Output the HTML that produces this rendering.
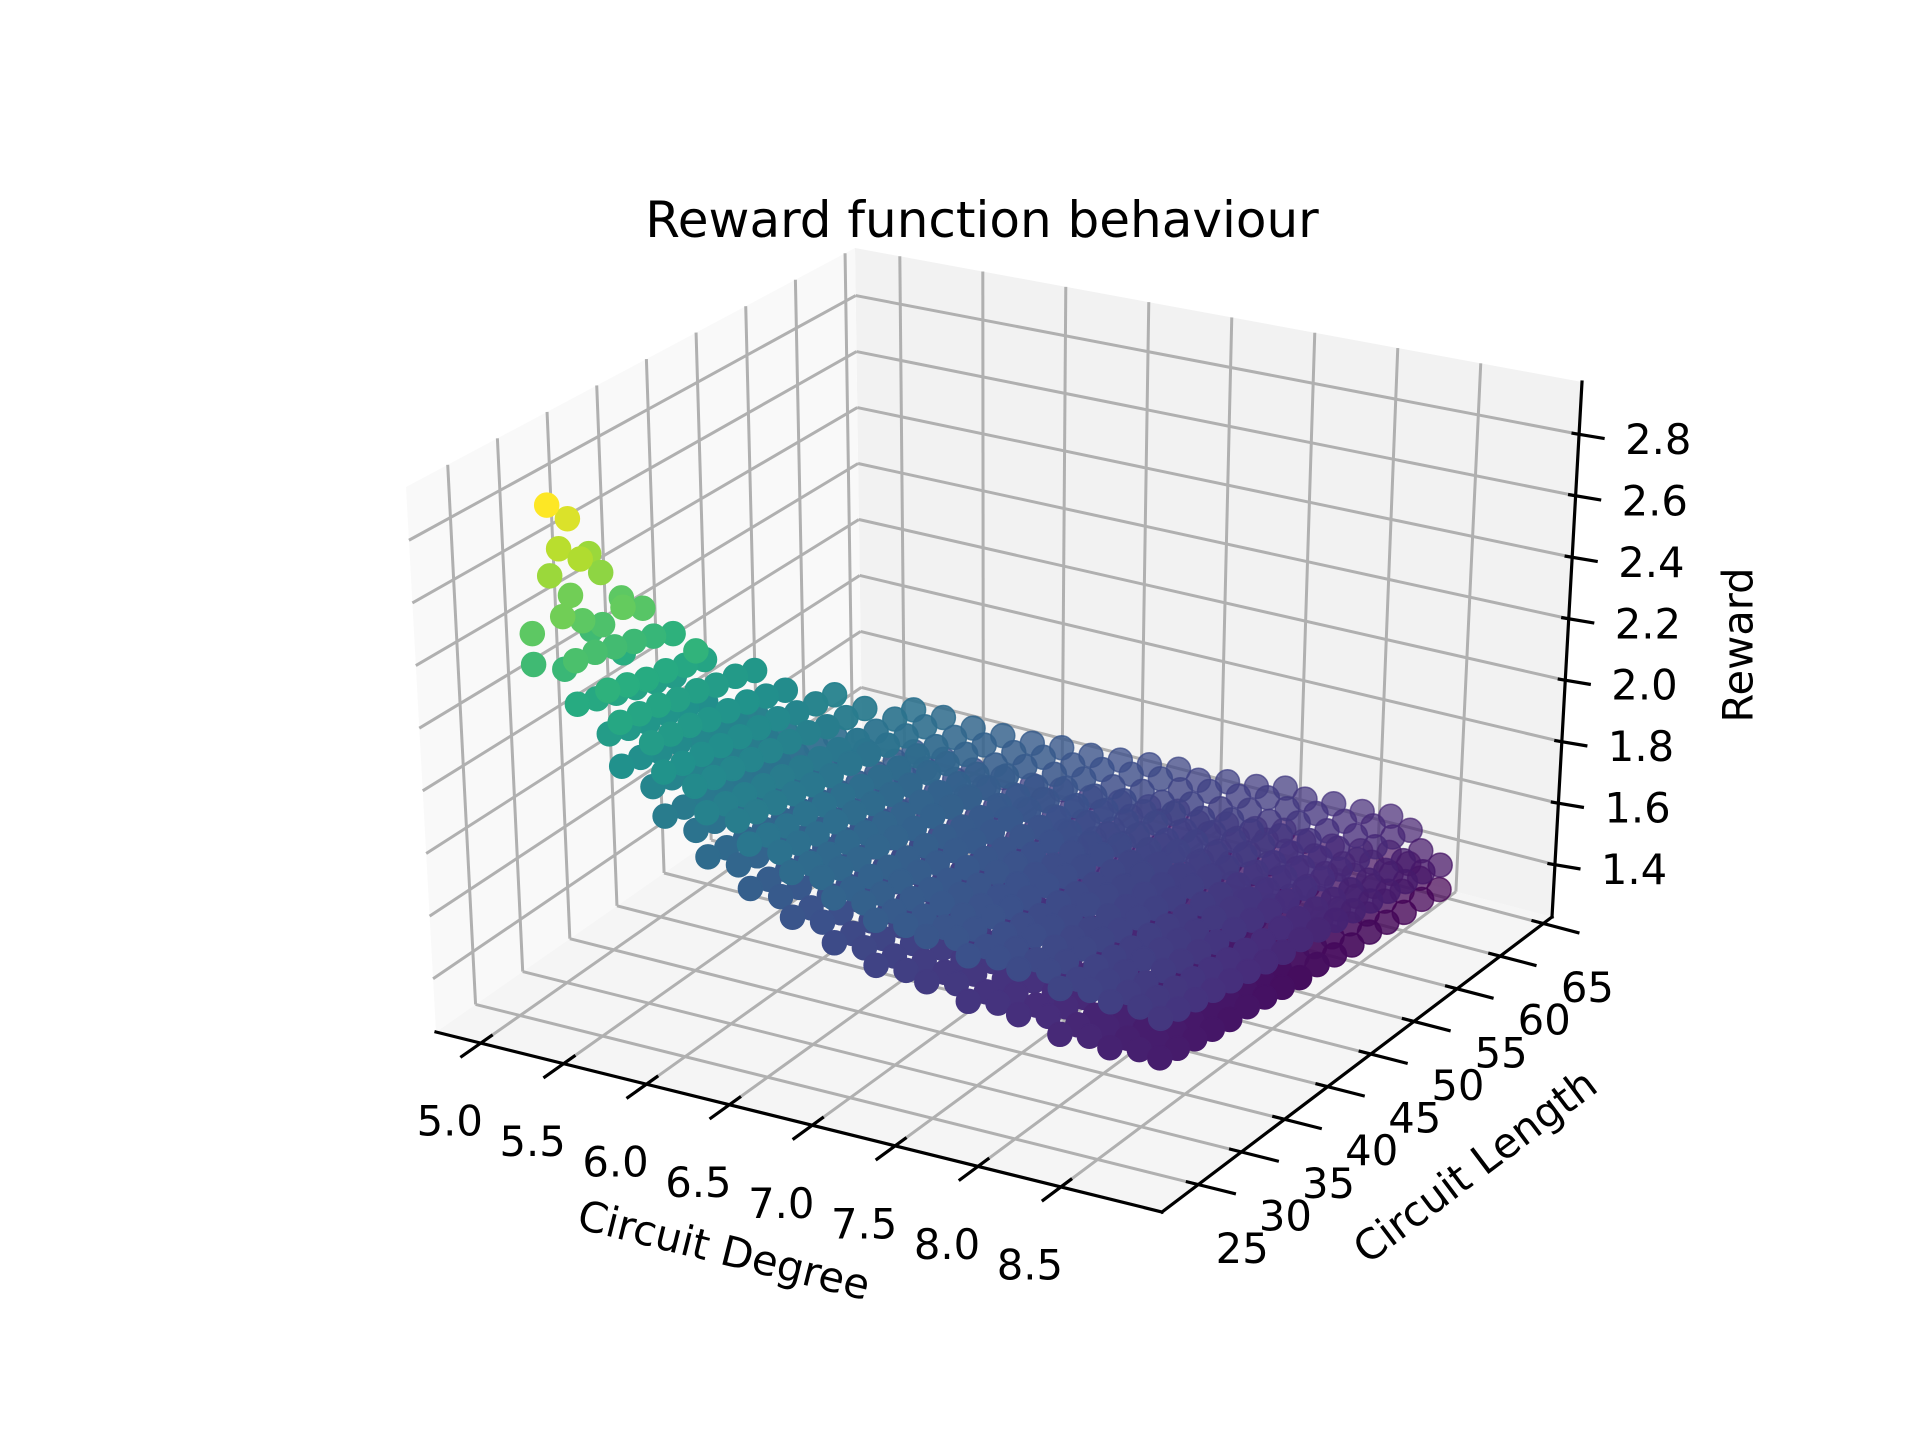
<!DOCTYPE html>
<html><head><meta charset="utf-8"><style>
html,body{margin:0;padding:0;background:#fff;}
svg{display:block;font-family:"DejaVu Sans","Liberation Sans",sans-serif;}
</style></head><body>
<svg id="chart" width="1920" height="1440" viewBox="0 0 1920 1440" xmlns="http://www.w3.org/2000/svg">
<rect x="0" y="0" width="1920" height="1440" fill="#ffffff"/>
<g id="panes"></g>
<g id="grid"></g>
<g id="axes"></g>
<g id="points"></g>
<g id="labels"></g>
<text x="982" y="237" font-size="50" text-anchor="middle">Reward function behaviour</text>
<text x="724" y="1250" font-size="41.7" text-anchor="middle" dominant-baseline="central" transform="rotate(14 724 1250)">Circuit Degree</text>
<text x="1475" y="1166" font-size="41.7" text-anchor="middle" dominant-baseline="central" transform="rotate(-37 1475 1166)">Circuit Length</text>
<text x="1738" y="645" font-size="41.7" text-anchor="middle" dominant-baseline="central" transform="rotate(-90 1738 645)">Reward</text>
</svg>
<script>
const xTicks = [5.0,5.5,6.0,6.5,7.0,7.5,8.0,8.5];
const yTicks = [25,30,35,40,45,50,55,60,65];
const zTicks = [1.4,1.6,1.8,2.0,2.2,2.4,2.6,2.8];
const xTickLabels = ["5.0","5.5","6.0","6.5","7.0","7.5","8.0","8.5"];
const yTickLabels = ["25","30","35","40","45","50","55","60","65"];
const zTickLabels = ["1.4","1.6","1.8","2.0","2.2","2.4","2.6","2.8"];
const xRange = [4.73, 9.11];
const yRange = [20.8, 66.0];
const zRange = [1.23, 2.97];

const degreeLevels = [5.0,5.25,5.5,5.75,6.0,6.25,6.5,6.75,7.0,7.25,7.5,7.75,8.0,8.25,8.5,
  5.125,5.375,5.625,5.875,6.125,6.375,6.625,6.875,7.125,7.375,7.625,7.875,8.125,8.375];
const lengthsByLevel = [
[28,28,30,30,31,32,32,34,34],
[28,28,30,30,32,32,33,34,34,35,36,36,38,38],
[28,28,30,30,32,32,34,34,36,36,36,38,38,40,40,42,42],
[28,28,30,30,32,32,34,34,36,36,38,38,40,40,42,42,44,44,46,46],
[28,28,30,30,32,32,34,34,36,36,38,38,40,40,42,42,44,44,46,46,48,48,50,50],
[28,28,30,30,32,32,34,34,36,36,38,38,40,40,42,42,44,44,46,46,48,48,50,50,52,52],
[28,28,30,30,32,32,34,34,36,36,38,38,40,40,42,42,44,44,46,46,48,48,50,50,52,52,54,54],
[28,28,30,30,32,32,34,34,36,36,38,38,40,40,42,42,44,44,46,46,48,48,50,50,52,52,54,54,56,56],
[28,28,30,30,32,32,34,34,36,36,38,38,40,40,42,42,44,44,46,46,48,48,50,50,52,52,54,54,56,56,58,58],
[29,29,31,31,33,33,35,35,37,37,39,39,41,41,43,43,45,45,47,47,49,49,51,51,53,53,55,55,57,57,59,59],
[29,29,31,31,33,33,35,35,37,37,39,39,41,41,43,43,45,45,47,47,49,49,51,51,53,53,55,55,57,57,59,59,61,61],
[30,30,32,32,34,34,36,36,38,38,40,40,42,42,44,44,46,46,48,48,50,50,52,52,54,54,56,56,58,58,60,60,62,62],
[30,30,32,32,34,34,36,36,38,38,40,40,42,42,44,44,46,46,48,48,50,50,52,52,54,54,56,56,58,58,60,60,62,62,64,64],
[31,31,33,33,35,35,37,37,39,39,41,41,43,43,45,45,47,47,49,49,51,51,53,53,55,55,57,57,59,59,61,61,63,63,65,65],
[32,32,34,34,36,36,38,38,40,40,42,42,44,44,46,46,48,48,50,50,52,52,54,54,56,56,58,58,60,60,62,62,64,64],
[29,29,31,31,33,33,35,35],
[29,29,31,31,33,33,35,35,37,37,39,39],
[29,29,31,31,33,33,35,35,37,37,39,39,41,41,43,43],
[29,29,31,31,33,33,35,35,37,37,39,39,41,41,43,43,45,45,47,47],
[29,29,31,31,33,33,35,35,37,37,39,39,41,41,43,43,45,45,47,47,49,49,51,51],
[29,29,31,31,33,33,35,35,37,37,39,39,41,41,43,43,45,45,47,47,49,49,51,51,53,53],
[29,29,31,31,33,33,35,35,37,37,39,39,41,41,43,43,45,45,47,47,49,49,51,51,53,53,55,55],
[29,29,31,31,33,33,35,35,37,37,39,39,41,41,43,43,45,45,47,47,49,49,51,51,53,53,55,55,57,57],
[29,29,31,31,33,33,35,35,37,37,39,39,41,41,43,43,45,45,47,47,49,49,51,51,53,53,55,55,57,57,59,59],
[30,30,32,32,34,34,36,36,38,38,40,40,42,42,44,44,46,46,48,48,50,50,52,52,54,54,56,56,58,58,60,60],
[30,30,32,32,34,34,36,36,38,38,40,40,42,42,44,44,46,46,48,48,50,50,52,52,54,54,56,56,58,58,60,60,62,62],
[31,31,33,33,35,35,37,37,39,39,41,41,43,43,45,45,47,47,49,49,51,51,53,53,55,55,57,57,59,59,61,61,63,63],
[31,31,33,33,35,35,37,37,39,39,41,41,43,43,45,45,47,47,49,49,51,51,53,53,55,55,57,57,59,59,61,61,63,63,65,65],
[32,32,34,34,36,36,38,38,40,40,42,42,44,44,46,46,48,48,50,50,52,52,54,54,56,56,58,58,60,60,62,62,64,64]
];
const rewardsByLevel = [
[2.40,2.30,2.78,2.55,2.62,2.70,2.45,2.55,2.30],
[2.34,2.20,2.33,2.18,2.31,2.16,2.42,2.29,2.14,2.38,2.27,2.12,2.24,2.10],
[2.17,2.03,2.16,2.02,2.15,2.00,2.13,1.99,2.12,1.97,2.25,2.10,1.96,2.09,1.94,2.07,1.93],
[2.04,1.90,2.03,1.89,2.02,1.88,2.01,1.87,2.00,1.86,1.99,1.85,1.98,1.84,1.96,1.82,1.95,1.81,1.94,1.80],
[1.94,1.80,1.93,1.79,1.92,1.78,1.91,1.77,1.90,1.76,1.89,1.75,1.88,1.74,1.87,1.73,1.86,1.72,1.85,1.71,1.85,1.71,1.84,1.70],
[1.87,1.73,1.86,1.72,1.85,1.71,1.85,1.70,1.84,1.70,1.83,1.69,1.82,1.68,1.81,1.67,1.80,1.66,1.80,1.65,1.79,1.64,1.78,1.64,1.77,1.63],
[1.81,1.67,1.80,1.66,1.79,1.66,1.79,1.65,1.78,1.64,1.77,1.63,1.76,1.62,1.76,1.62,1.75,1.61,1.74,1.60,1.73,1.59,1.72,1.58,1.72,1.58,1.71,1.57],
[1.76,1.62,1.75,1.61,1.75,1.61,1.74,1.60,1.73,1.59,1.73,1.59,1.72,1.58,1.71,1.57,1.70,1.56,1.70,1.56,1.69,1.55,1.68,1.54,1.68,1.54,1.67,1.53,1.66,1.52],
[1.72,1.58,1.71,1.57,1.71,1.57,1.70,1.56,1.69,1.55,1.69,1.55,1.68,1.54,1.67,1.53,1.67,1.53,1.66,1.52,1.65,1.51,1.65,1.51,1.64,1.50,1.63,1.49,1.63,1.49,1.62,1.48],
[1.68,1.54,1.67,1.53,1.67,1.53,1.66,1.52,1.65,1.51,1.65,1.51,1.64,1.50,1.63,1.49,1.63,1.49,1.62,1.48,1.61,1.47,1.61,1.47,1.60,1.46,1.59,1.45,1.59,1.45,1.58,1.44],
[1.65,1.51,1.64,1.50,1.64,1.50,1.63,1.49,1.62,1.48,1.62,1.48,1.61,1.47,1.60,1.46,1.60,1.46,1.59,1.45,1.59,1.45,1.58,1.44,1.57,1.43,1.57,1.43,1.56,1.42,1.56,1.42,1.55,1.41],
[1.62,1.48,1.61,1.47,1.61,1.47,1.60,1.46,1.59,1.45,1.59,1.45,1.58,1.44,1.58,1.44,1.57,1.43,1.56,1.42,1.56,1.42,1.55,1.41,1.55,1.41,1.54,1.40,1.53,1.39,1.53,1.39,1.52,1.38],
[1.59,1.45,1.58,1.44,1.58,1.43,1.57,1.43,1.56,1.42,1.56,1.41,1.55,1.41,1.54,1.40,1.54,1.39,1.53,1.39,1.52,1.38,1.52,1.37,1.51,1.37,1.50,1.36,1.50,1.35,1.49,1.35,1.48,1.34,1.47,1.34],
[1.56,1.42,1.55,1.41,1.54,1.40,1.54,1.40,1.53,1.39,1.52,1.38,1.51,1.38,1.51,1.37,1.50,1.36,1.49,1.36,1.48,1.35,1.48,1.34,1.47,1.34,1.46,1.33,1.45,1.33,1.45,1.32,1.44,1.32,1.42,1.31],
[1.52,1.40,1.51,1.39,1.50,1.38,1.49,1.37,1.48,1.36,1.47,1.36,1.46,1.35,1.45,1.34,1.45,1.33,1.44,1.33,1.43,1.32,1.42,1.31,1.41,1.31,1.40,1.30,1.39,1.29,1.38,1.29,1.36,1.28],
[2.45,2.28,2.60,2.40,2.52,2.35,2.40,2.22],
[2.24,2.10,2.22,2.08,2.20,2.06,2.19,2.05,2.17,2.03,2.15,2.01],
[2.10,1.96,2.09,1.95,2.08,1.94,2.06,1.92,2.05,1.91,2.04,1.90,2.02,1.88,2.00,1.86],
[1.99,1.85,1.98,1.84,1.97,1.83,1.96,1.82,1.95,1.81,1.94,1.80,1.93,1.79,1.91,1.77,1.90,1.76,1.89,1.75],
[1.91,1.77,1.90,1.76,1.89,1.75,1.88,1.74,1.87,1.73,1.86,1.72,1.86,1.71,1.85,1.71,1.84,1.70,1.83,1.69,1.82,1.68,1.81,1.67],
[1.84,1.70,1.83,1.69,1.82,1.69,1.82,1.68,1.81,1.67,1.80,1.66,1.79,1.65,1.78,1.64,1.78,1.64,1.77,1.63,1.76,1.62,1.75,1.61,1.74,1.60],
[1.79,1.65,1.78,1.64,1.77,1.64,1.77,1.63,1.76,1.62,1.75,1.61,1.75,1.61,1.74,1.60,1.73,1.59,1.72,1.58,1.72,1.58,1.71,1.57,1.70,1.56,1.69,1.55],
[1.74,1.60,1.73,1.59,1.73,1.59,1.72,1.58,1.71,1.57,1.71,1.57,1.70,1.56,1.69,1.55,1.69,1.55,1.68,1.54,1.67,1.53,1.67,1.53,1.66,1.52,1.65,1.51,1.64,1.50],
[1.70,1.56,1.69,1.55,1.69,1.55,1.68,1.54,1.67,1.53,1.67,1.53,1.66,1.52,1.65,1.51,1.65,1.51,1.64,1.50,1.63,1.49,1.63,1.49,1.62,1.48,1.61,1.47,1.61,1.47,1.60,1.46],
[1.67,1.53,1.66,1.52,1.66,1.52,1.65,1.51,1.64,1.50,1.64,1.50,1.63,1.49,1.62,1.48,1.62,1.48,1.61,1.47,1.60,1.46,1.60,1.46,1.59,1.45,1.58,1.44,1.58,1.44,1.57,1.43],
[1.64,1.50,1.63,1.49,1.63,1.49,1.62,1.48,1.61,1.47,1.61,1.47,1.60,1.46,1.59,1.45,1.59,1.45,1.58,1.44,1.58,1.44,1.57,1.43,1.56,1.42,1.56,1.42,1.55,1.41,1.55,1.41,1.54,1.40],
[1.61,1.47,1.60,1.46,1.60,1.45,1.59,1.45,1.58,1.44,1.58,1.43,1.57,1.43,1.56,1.42,1.56,1.41,1.55,1.41,1.54,1.40,1.54,1.39,1.53,1.39,1.52,1.38,1.52,1.37,1.51,1.37,1.50,1.36],
[1.58,1.44,1.57,1.43,1.56,1.42,1.56,1.42,1.55,1.41,1.54,1.40,1.53,1.40,1.53,1.39,1.52,1.38,1.51,1.38,1.50,1.37,1.50,1.36,1.49,1.36,1.48,1.35,1.47,1.35,1.47,1.34,1.46,1.34,1.45,1.33],
[1.54,1.41,1.53,1.40,1.52,1.39,1.51,1.38,1.50,1.37,1.49,1.37,1.48,1.36,1.47,1.35,1.47,1.34,1.46,1.34,1.45,1.33,1.44,1.32,1.43,1.32,1.42,1.31,1.41,1.31,1.40,1.30,1.39,1.30]
];

const NS = "http://www.w3.org/2000/svg";
const C = {
  "000":[436,1032], "100":[1162,1212], "110":[1552,917], "010":[862,735],
  "001":[406,487],  "101":[1174,619],  "111":[1582,382], "011":[855,248]
};
function lerp(a,b,t){return [a[0]+(b[0]-a[0])*t, a[1]+(b[1]-a[1])*t];}
function projN(u,v,w){
  const a = lerp(C["000"],C["100"],u), b = lerp(C["010"],C["110"],u);
  const c = lerp(C["001"],C["101"],u), d = lerp(C["011"],C["111"],u);
  return lerp(lerp(a,b,v), lerp(c,d,v), w);
}
function xN(x){return (x-xRange[0])/(xRange[1]-xRange[0]);}
function yN(y){return (y-yRange[0])/(yRange[1]-yRange[0]);}
function zN(z){return (z-zRange[0])/(zRange[1]-zRange[0]);}
function proj(x,y,z){return projN(xN(x),yN(y),zN(z));}

function mk(tag, parent, attrs){
  const el = document.createElementNS(NS, tag);
  for (const k in attrs) el.setAttribute(k, attrs[k]);
  parent.appendChild(el);
  return el;
}
function ptsStr(arr){return arr.map(p=>p[0].toFixed(1)+","+p[1].toFixed(1)).join(" ");}

const panes = document.getElementById("panes");
const floor = mk("polygon", panes, {points: ptsStr([projN(0,0,0),projN(1,0,0),projN(1,1,0),projN(0,1,0)]), fill:"#f5f5f5"});


const back = mk("polygon", panes, {points: ptsStr([projN(0,1,0),projN(1,1,0),projN(1,1,1),projN(0,1,1)]), fill:"#f2f2f2"});


const left = mk("polygon", panes, {points: ptsStr([projN(0,0,0),projN(0,1,0),projN(0,1,1),projN(0,0,1)]), fill:"#f9f9f9"});



const grid = document.getElementById("grid");
function gline(p,q,name){
  const l = mk("line", grid, {x1:p[0],y1:p[1],x2:q[0],y2:q[1],stroke:"#b0b0b0","stroke-width":3});
  
  
}
xTicks.forEach(x=>{
  const u = xN(x);
  gline(projN(u,0,0), projN(u,1,0), 'x-gridline-floor');
  gline(projN(u,1,0), projN(u,1,1), 'x-gridline-back');
});
yTicks.forEach(y=>{
  const v = yN(y);
  gline(projN(0,v,0), projN(1,v,0), 'y-gridline-floor');
  gline(projN(0,v,0), projN(0,v,1), 'y-gridline-left');
});
zTicks.forEach(z=>{
  const w = zN(z);
  gline(projN(0,0,w), projN(0,1,w), 'z-gridline-left');
  gline(projN(0,1,w), projN(1,1,w), 'z-gridline-back');
});

const axes = document.getElementById("axes");
function aline(p,q,name){
  const l = mk("line", axes, {x1:p[0],y1:p[1],x2:q[0],y2:q[1],stroke:"#000","stroke-width":3.2,"stroke-linecap":"square"});
  
  
}
aline(projN(0,0,0), projN(1,0,0), 'x-axis-line');
aline(projN(1,0,0), projN(1,1,0), 'y-axis-line');
aline(projN(1,1,0), projN(1,1,1), 'z-axis-line');
xTicks.forEach(x=>{ const u=xN(x); aline(projN(u,0.025,0), projN(u,-0.045,0), 'x-tick'); });
yTicks.forEach(y=>{ const v=yN(y); aline(projN(0.985,v,0), projN(1.05,v,0), 'y-tick'); });
zTicks.forEach(z=>{ const p=proj(xRange[1],yRange[1],z); aline([p[0]-6,p[1]-1], [p[0]+24,p[1]+4], 'z-tick'); });

const labels = document.getElementById("labels");
function tlabel(p, txt, anchor, name){
  const t = mk("text", labels, {x:p[0].toFixed(1), y:p[1].toFixed(1), "font-size":41.7, "text-anchor":anchor, "dominant-baseline":"central", fill:"#000"});
  t.textContent = txt;
  
  
}
xTicks.forEach((x,i)=>{ const p=proj(x,yRange[0],zRange[0]); tlabel([p[0]-31,p[1]+78], xTickLabels[i], "middle", 'x-tick-label'); });
yTicks.forEach((y,i)=>{ const p=proj(xRange[1],y,zRange[0]); tlabel([p[0]+44,p[1]+64], yTickLabels[i], "middle", 'y-tick-label'); });
zTicks.forEach((z,i)=>{ const p=proj(xRange[1],yRange[1],z); tlabel([p[0]+46,p[1]+5], zTickLabels[i], "start", 'z-tick-label'); });

const vir = ["#440154","#472d7b","#3b528b","#2c728e","#21918c","#28ae80","#5ec962","#addc30","#fde725"];
function hex2(h){return [parseInt(h.slice(1,3),16),parseInt(h.slice(3,5),16),parseInt(h.slice(5,7),16)];}
function viridis(t){
  t=Math.max(0,Math.min(1,t));
  const s=t*(vir.length-1), i=Math.min(vir.length-2,Math.floor(s)), f=s-i;
  const a=hex2(vir[i]), b=hex2(vir[i+1]);
  return "rgb("+a.map((c,k)=>Math.round(c+(b[k]-c)*f)).join(",")+")";
}

const pts = [];
degreeLevels.forEach((d,li)=>{
  lengthsByLevel[li].forEach((L,j)=>{
    pts.push({x:d, y:L, z:rewardsByLevel[li][j]});
  });
});
let rmin=Infinity, rmax=-Infinity;
pts.forEach(p=>{rmin=Math.min(rmin,p.z); rmax=Math.max(rmax,p.z);});
pts.forEach(p=>{ p.depth = 0.433*xN(p.x) - 0.75*yN(p.y) + 0.5*zN(p.z); });
let dmin=Infinity, dmax=-Infinity;
pts.forEach(p=>{dmin=Math.min(dmin,p.depth); dmax=Math.max(dmax,p.depth);});
pts.sort((a,b)=>a.depth-b.depth);
const pg = document.getElementById("points");
pts.forEach(p=>{
  const s = proj(p.x,p.y,p.z);
  const a = Math.min(1, 0.65 + 0.8*(p.depth-dmin)/(dmax-dmin || 1));
  const col = viridis((p.z-rmin)/(rmax-rmin));
  const c = mk("circle", pg, {cx:s[0].toFixed(1), cy:s[1].toFixed(1), r:12, fill:col, "fill-opacity":a.toFixed(2), stroke:col, "stroke-opacity":a.toFixed(2), "stroke-width":1.5});
  
  
});
</script>
</body></html>
